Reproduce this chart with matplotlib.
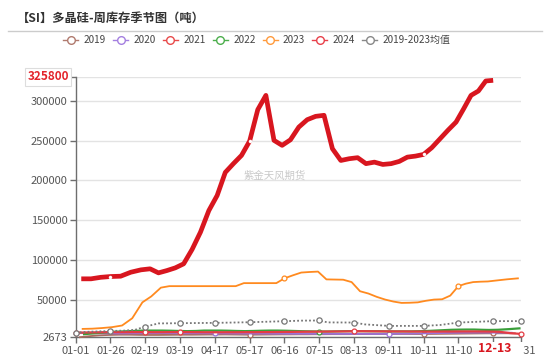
import numpy as np
import pandas as pd
import matplotlib
matplotlib.use("Agg")
import matplotlib.pyplot as plt
from matplotlib.lines import Line2D
from matplotlib.patches import Rectangle
from datetime import date

plt.rcParams['font.family'] = ['Noto Sans CJK SC', 'DejaVu Sans']

# ---------------- data ----------------
tick_dates = ["01-01", "01-26", "02-19", "03-19", "04-17", "05-17", "06-16",
              "07-15", "08-13", "09-11", "10-11", "11-10", "12-13", "12-31"]
y_ticks = [2673, 50000, 100000, 150000, 200000, 250000, 300000]
y_max_label = 325800
highlight_date = "12-13"

dates_2019 = pd.date_range("2019-01-04", "2019-12-27", freq="7D").strftime("%m-%d").tolist()
dates_2020 = pd.date_range("2020-01-03", "2020-12-25", freq="7D").strftime("%m-%d").tolist()
dates_2021 = pd.date_range("2021-01-01", "2021-12-31", freq="7D").strftime("%m-%d").tolist()
dates_2022 = pd.date_range("2022-01-07", "2022-12-30", freq="7D").strftime("%m-%d").tolist()
dates_2023 = pd.date_range("2023-01-06", "2023-12-29", freq="7D").strftime("%m-%d").tolist()
dates_2024 = pd.date_range("2024-01-05", "2024-12-13", freq="7D").strftime("%m-%d").tolist()

v2019 = [2673, 4000, 5000, 5500, 5800, 5800, 5600, 5500, 5500, 5600, 5700, 5800, 5800,
         5900, 6000, 6000, 6100, 6000, 5900, 5800, 5900, 6000, 6100, 6200, 6200, 6300,
         6300, 6400, 6400, 6500, 6500, 6500, 6600, 6600, 6700, 6700, 6700, 6800, 6800,
         6700, 6700, 6800, 6900, 7000, 7100, 7200, 7300, 7400, 7500, 7500, 7600, 7600]
v2020 = [8000, 7800, 7600, 7500, 7400, 7500, 7600, 7700, 7800, 7800, 7700, 7600, 7600,
         7600, 7600, 7500, 7400, 7400, 7300, 7300, 7200, 7200, 7100, 7100, 7000, 7000,
         7000, 6900, 6900, 6900, 6800, 6800, 6800, 6800, 6700, 6800, 6900, 7000, 7100,
         7200, 7400, 7600, 7800, 8000, 8200, 8300, 8400, 8500, 8500, 8400, 8400, 8300]
v2021 = [8400, 8600, 8800, 9000, 9000, 9000, 9100, 9100, 9000, 9000, 9100, 9200, 9100,
         9000, 8900, 8900, 8900, 8900, 8900, 9000, 9000, 9100, 9100, 9200, 9300, 9400,
         9500, 9600, 9700, 9800, 9900, 10000, 10200, 10200, 10100, 10000, 10000, 9900,
         9900, 9800, 9800, 9700, 9700, 9800, 9800, 9900, 9900, 9900, 9800, 9700, 9500,
         7800, 6800]
v2022 = [6500, 7500, 8500, 9500, 10000, 10500, 11000, 11000, 11000, 10800, 10500, 10300,
         10500, 11000, 11000, 11000, 10800, 10500, 10300, 10500, 10800, 11000, 11000,
         10800, 10500, 10200, 10000, 9800, 9800, 10000, 10200, 10300, 10300, 10200, 10200,
         10000, 10000, 10000, 10000, 10200, 10500, 11000, 11500, 12000, 12200, 12300,
         12300, 12000, 11800, 12000, 12800, 13800]
v2023 = [13100, 13400, 14200, 15300, 17400, 26500, 46500, 54000, 65000, 66900, 66900,
         66900, 66900, 66900, 66900, 66900, 66900, 66900, 70700, 70700, 70700, 70700,
         70700, 76700, 80500, 84000, 84700, 85200, 75400, 75200, 75000, 72000, 60500,
         57600, 53400, 50000, 47500, 45800, 46000, 46500, 48500, 50000, 50400, 55000,
         66900, 70000, 72000, 72500, 72800, 74000, 75500, 76700]
v2024 = [76100, 76100, 78000, 79000, 79400, 84400, 87400, 88700, 83600, 86500, 89900,
         95000, 113000, 134800, 162000, 181000, 210000, 221000, 231400, 249400, 288900,
         306900, 250300, 244000, 251000, 267000, 276300, 280500, 281800, 239800, 225000,
         227200, 228500, 221000, 222900, 220000, 221000, 223800, 229200, 230500, 232600,
         241000, 252000, 263000, 273300, 290000, 306900, 312400, 325000, 325800]
mean_dates = ["01-01", "01-10", "01-26", "02-05", "02-12", "02-19", "03-01", "03-19",
              "04-17", "05-17", "06-16", "06-30", "07-15", "07-22", "08-13", "08-22",
              "09-11", "10-11", "10-25", "11-10", "12-13", "12-31"]
v_mean = [8400, 9500, 10500, 11000, 12000, 16000, 20000, 20300, 20700, 21500, 22800,
          23500, 23700, 21300, 21100, 18800, 16900, 16900, 18000, 21100, 22900, 22900]

# ---------------- scale helpers ----------------
LAST_TICK_FRAC = 0.8  # the last category interval is shorter


def doy(md):
    m, d = map(int, md.split("-"))
    return date(2024, m, d).timetuple().tm_yday


tick_pos = [float(i) for i in range(len(tick_dates) - 1)]
tick_pos.append(tick_pos[-1] + LAST_TICK_FRAC)
tick_doy = [doy(t) for t in tick_dates]


def xpos(mds):
    return np.interp([doy(s) for s in mds], tick_doy, tick_pos)


def mark_idx(mds):
    return [i for i, s in enumerate(mds) if s in tick_dates]


# ---------------- figure ----------------
W, H = 550, 357
fig = plt.figure(figsize=(W / 100, H / 100), dpi=100)
L, R, T, B = 75.7, 521, 77, 337.2
ax = fig.add_axes([L / W, 1 - B / H, (R - L) / W, (B - T) / H])

series = [
    ("2019", dates_2019, v2019, "#a86a5c", 1.3, 3),
    ("2020", dates_2020, v2020, "#9b72d6", 1.3, 3),
    ("2022", dates_2022, v2022, "#3a9e3a", 1.6, 3),
    ("2021", dates_2021, v2021, "#e43c44", 1.6, 4),
]
for name, ds, vs, col, lw, z in series:
    ax.plot(xpos(ds), vs, color=col, lw=lw, zorder=z, marker="o", markersize=3.5,
            mfc="white", mec=col, mew=0.9, markevery=mark_idx(ds), clip_on=False)

ax.plot(xpos(mean_dates), v_mean, color="#777777", lw=1.3, ls=(0, (1, 1.2)), zorder=5,
        marker="o", markersize=3.8, mfc="white", mec="#777777", mew=0.9,
        markevery=mark_idx(mean_dates), clip_on=False)
ax.plot(xpos(dates_2023), v2023, color="#ff8a1f", lw=1.3, zorder=6, marker="o",
        markersize=3.5, mfc="white", mec="#ff8a1f", mew=0.9,
        markevery=mark_idx(dates_2023))
ax.plot(xpos(dates_2024), v2024, color="#d8161f", lw=3.4, zorder=7, marker="o",
        markersize=2.2, mfc="white", mec="white", mew=0.3,
        markevery=mark_idx(dates_2024)[:-1], solid_capstyle="butt", solid_joinstyle="round")

ax.set_xlim(tick_pos[0], tick_pos[-1])
ax.set_ylim(y_ticks[0], 330000)
ax.set_yticks(y_ticks + [330000])
ax.set_yticklabels([str(v) for v in y_ticks] + [""])
ax.set_xticks(tick_pos)
ax.set_xticklabels([t if t != highlight_date else "" for t in tick_dates])

ax.grid(axis="y", color="#e3e3e3", lw=1)
ax.set_axisbelow(True)
for s in ["top", "right"]:
    ax.spines[s].set_visible(False)
for s in ["left", "bottom"]:
    ax.spines[s].set_color("#6e6e6e")
    ax.spines[s].set_linewidth(1)
ax.tick_params(axis="both", colors="#6e6e6e", length=4, width=1, labelsize=8,
               labelcolor="#555555")
ax.tick_params(axis="x", pad=2)
ax.tick_params(axis="y", pad=2)

# highlighted x label (white box hides the neighbouring label)
hx = L + tick_pos[tick_dates.index(highlight_date)] / tick_pos[-1] * (R - L)
fig.add_artist(Rectangle(((hx - 17) / W, 1 - 356 / H), 47 / W, 14 / H,
                         transform=fig.transFigure, fc="white", ec="none", zorder=10))
fig.text((hx + 2) / W, 1 - 348.5 / H, highlight_date, ha="center", va="center",
         fontsize=8.8, fontweight="bold", color="#d8161f", zorder=11)

ax.annotate(str(y_max_label), xy=(0, 330000), xycoords=("axes fraction", "data"),
            xytext=(-5, 0), textcoords="offset points", ha="right", va="center",
            fontsize=8.5, fontweight="bold", color="#e3242b", zorder=20,
            bbox=dict(boxstyle="square,pad=0.2", fc="white", ec="#dddddd", lw=0.8),
            annotation_clip=False)

# watermark
ax.text(0.4476, 0.62, "紫金天风期货", transform=ax.transAxes, ha="center", va="center",
        fontsize=7.5, color="#c9c9c9", zorder=1)

# title & separator
fig.text(17 / W, 1 - 18 / H, "【SI】多晶硅-周库存季节图（吨）", ha="left", va="center",
         fontsize=8.8, fontweight="bold", color="#333333")
fig.add_artist(Line2D([8 / W, 542 / W], [1 - 30.5 / H, 1 - 30.5 / H], color="#cccccc", lw=1))

# legend
leg_items = [("2019", "#b07a6e"), ("2020", "#a47fe0"), ("2021", "#e84a4a"),
             ("2022", "#4cae4c"), ("2023", "#ff9a3c"), ("2024", "#e8404a"),
             ("2019-2023均值", "#888888")]
handles = [Line2D([], [], color=c, lw=1, marker="o", markersize=5.5, mfc="white", mec=c,
                  mew=1) for _, c in leg_items]
fig.legend(handles, [n for n, _ in leg_items], loc="center", bbox_to_anchor=(257 / W, 1 - 40 / H),
           ncol=7, frameon=False, fontsize=7.2, handlelength=1.5, handletextpad=0.55,
           columnspacing=0.7, labelcolor="#444444")

fig.savefig("out.png", dpi=100)
